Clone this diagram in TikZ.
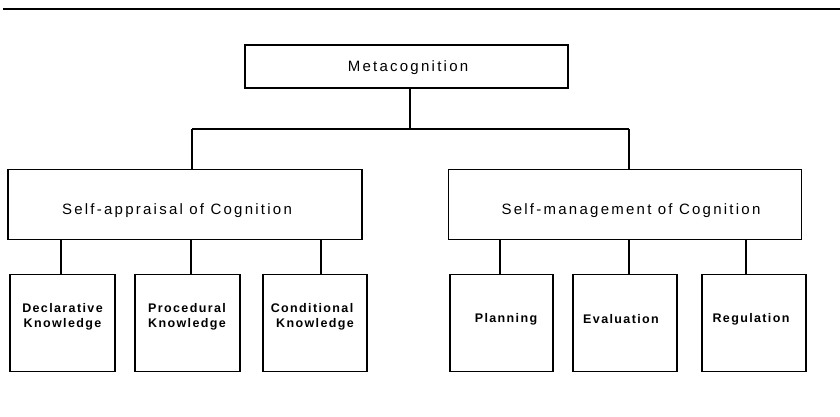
\documentclass[tikz,border=0pt]{standalone}
\usepackage{fontspec}
\setmainfont{Liberation Sans}
\newfontfamily\midfont[LetterSpace=15]{Liberation Sans}
\newfontfamily\smallfont[LetterSpace=11]{Liberation Sans}
\begin{document}
\begin{tikzpicture}[x=1pt,y=-1pt]
\tikzset{
  box/.style={draw, line width=1.7pt, inner sep=0pt},
  conn/.style={line width=1.6pt},
  bigtxt/.style={font=\fontsize{15}{18}\selectfont\midfont, inner sep=0pt},
  smtxt/.style={font=\fontsize{12.5}{14.5}\selectfont\smallfont\bfseries, align=center, inner sep=0pt}
}
\useasboundingbox (0,0) rectangle (840,416);
% top rule
\coordinate (rl) at (3,9);
\coordinate (rr) at (840,9);
\draw[line width=2.8pt] (rl) -- (rr);
% top box
\node[box, minimum width=323pt, minimum height=43pt] (meta) at (406.5,66.5) {};
\node[bigtxt] (metat) at (408,68) {Metacognition};
% second level
\node[box, minimum width=354pt, minimum height=70pt] (appr) at (185,204.5) {};
\node[bigtxt] (apprt) at (177,211) {Self-appraisal of Cognition};
\node[box, minimum width=353pt, minimum height=70pt] (mgmt) at (625,204.5) {};
\node[bigtxt] (mgmtt) at (631,211) {Self-management of Cognition};
% third level
\node[box, minimum width=105pt, minimum height=97pt] (decl) at (62.5,323) {};
\node[box, minimum width=105pt, minimum height=97pt] (proc) at (187.5,323) {};
\node[box, minimum width=104pt, minimum height=97pt] (cond) at (315,323) {};
\node[box, minimum width=103pt, minimum height=97pt] (plan) at (501.5,323) {};
\node[box, minimum width=104pt, minimum height=97pt] (eval) at (625,323) {};
\node[box, minimum width=104pt, minimum height=97pt] (regu) at (754,323) {};
\node[smtxt] (declt) at (62.5,317) {Declarative\\Knowledge};
\node[smtxt] (proct) at (187,317) {Procedural\\Knowledge};
\node[smtxt] (condt) at (312,317) {Conditional\\\hspace*{6pt}Knowledge};
\node[smtxt] (plant) at (506,319) {Planning};
\node[smtxt] (evalt) at (621,319) {Evaluation};
\node[smtxt] (regut) at (751,319) {Regulation};
% connectors
\coordinate (j) at (410,129);
\coordinate (jl) at (192,129);
\coordinate (jr) at (629,129);
\draw[conn] (j |- meta.south) -- (j);
\draw[conn] (jl) -- (jr);
\draw[conn] (jl) -- (jl |- appr.north);
\draw[conn] (jr) -- (jr |- mgmt.north);
\draw[conn] ([xshift=-1.5pt]decl.north) -- ([xshift=-1.5pt]decl.north |- appr.south);
\draw[conn] ([xshift=3.5pt]proc.north) -- ([xshift=3.5pt]proc.north |- appr.south);
\draw[conn] ([xshift=6pt]cond.north) -- ([xshift=6pt]cond.north |- appr.south);
\draw[conn] ([xshift=-1.5pt]plan.north) -- ([xshift=-1.5pt]plan.north |- mgmt.south);
\draw[conn] ([xshift=4pt]eval.north) -- ([xshift=4pt]eval.north |- mgmt.south);
\draw[conn] ([xshift=-8pt]regu.north) -- ([xshift=-8pt]regu.north |- mgmt.south);
\end{tikzpicture}
\end{document}
